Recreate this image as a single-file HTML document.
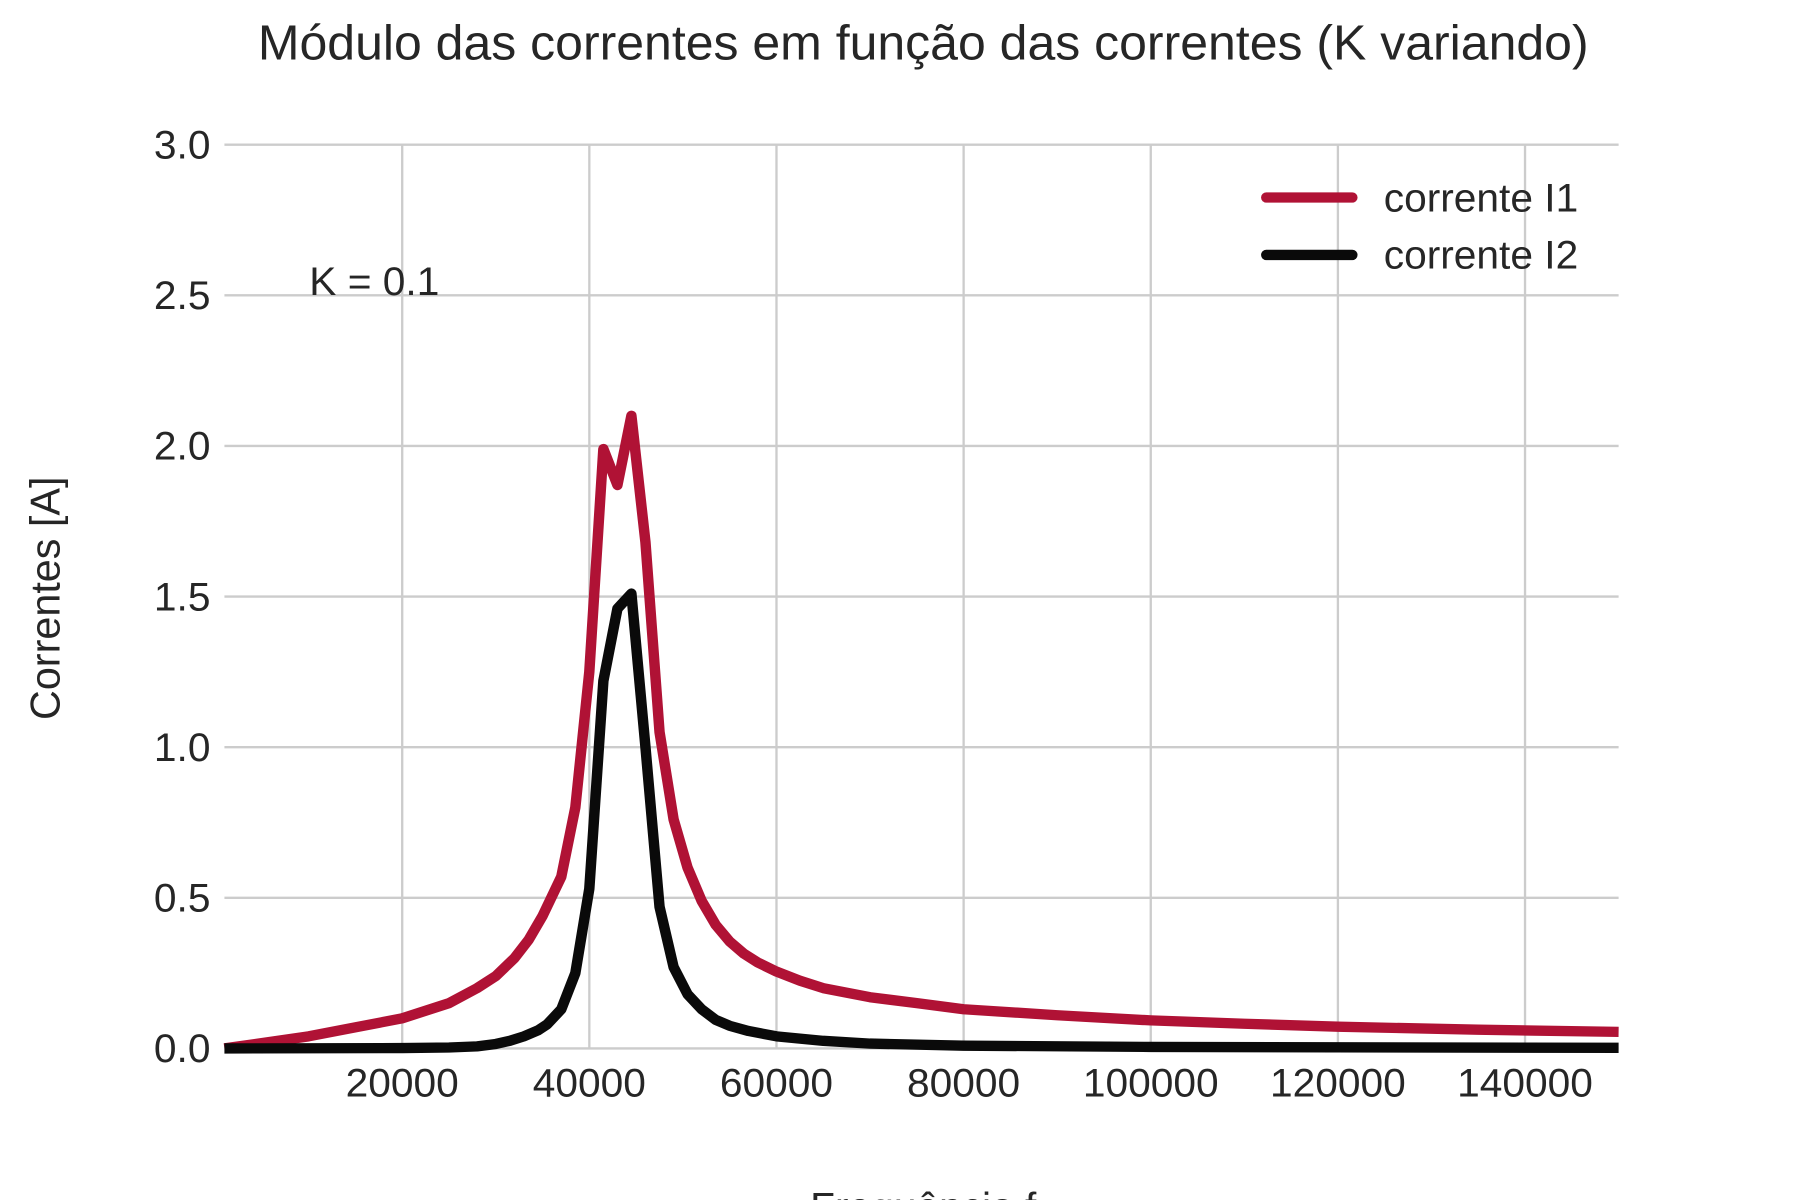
<!DOCTYPE html>
<html><head><meta charset="utf-8"><style>
html,body{margin:0;padding:0;background:#fff;overflow:hidden}
svg{display:block;font-family:"Liberation Sans",sans-serif;fill:#262626}
</style></head><body>
<svg id="chart" width="1800" height="1200" viewBox="0 0 1548 1045" preserveAspectRatio="none">
<text x="794" y="52" font-size="43" text-anchor="middle">Módulo das correntes em função das correntes (K variando)</text>
<g id="grid"></g>
<g id="ticks"></g>
<g id="series"></g>
<text x="266" y="257" font-size="35">K = 0.1</text>
<text transform="translate(51,521) rotate(-90)" font-size="36" text-anchor="middle">Correntes [A]</text>
<text x="794" y="1063" font-size="35" text-anchor="middle">Frequência f</text>
<g>
<line x1="1089" y1="172" x2="1163" y2="172" stroke="#b01235" stroke-width="9" stroke-linecap="round"/>
<text x="1190" y="184" font-size="35">corrente I1</text>
<line x1="1089" y1="222" x2="1163" y2="222" stroke="#0a0a0a" stroke-width="9" stroke-linecap="round"/>
<text x="1190" y="234" font-size="35">corrente I2</text>
</g>
</svg>
<script>
const xTicks = [20000,40000,60000,80000,100000,120000,140000];
const yTicks = [0.0,0.5,1.0,1.5,2.0,2.5,3.0];
const freqI1 = [1000,10000,15000,20000,25000,28000,30000,32000,33500,35000,37000,38500,40000,41500,43000,44500,46000,47500,49000,50500,52000,53500,55000,56500,58000,60000,62500,65000,70000,75000,80000,90000,100000,110000,120000,135000,150000];
const valuesI1 = [0,0.04,0.07,0.1,0.15,0.2,0.24,0.3,0.36,0.44,0.57,0.8,1.25,1.99,1.87,2.1,1.68,1.05,0.76,0.6,0.49,0.41,0.355,0.315,0.285,0.255,0.225,0.2,0.17,0.15,0.13,0.11,0.093,0.082,0.072,0.062,0.055];
const freqI2 = [1000,20000,25000,28000,30000,31500,33000,34500,35500,37000,38500,40000,41500,43000,44500,46000,47500,49000,50500,52000,53500,55000,57000,60000,65000,70000,80000,100000,150000];
const valuesI2 = [0,0.001,0.003,0.007,0.015,0.025,0.04,0.06,0.08,0.13,0.25,0.53,1.22,1.46,1.51,1.0,0.47,0.27,0.18,0.13,0.095,0.075,0.058,0.04,0.025,0.016,0.009,0.005,0.002];
const X0=193,X1=1392,Y0=913,Y1=126,xmin=1000,xmax=150000,ymin=0,ymax=3;
const sx=v=>X0+(v-xmin)/(xmax-xmin)*(X1-X0);
const sy=v=>Y0-(v-ymin)/(ymax-ymin)*(Y0-Y1);
const NS='http://www.w3.org/2000/svg';
const grid=document.getElementById('grid'),ticks=document.getElementById('ticks'),series=document.getElementById('series');
function mk(tag,attrs,parent){const e=document.createElementNS(NS,tag);for(const k in attrs)e.setAttribute(k,attrs[k]);parent.appendChild(e);return e;}
xTicks.forEach(t=>{
  const l=mk('line',{x1:sx(t),x2:sx(t),y1:Y1,y2:Y0,stroke:'#cccccc','stroke-width':2},grid);
  
  
  const tx=mk('text',{x:sx(t),y:Y0+42,'font-size':35,'text-anchor':'middle'},ticks);
  tx.textContent=t;
  
  
});
yTicks.forEach(t=>{
  const l=mk('line',{x1:X0,x2:X1,y1:sy(t),y2:sy(t),stroke:'#cccccc','stroke-width':2},grid);
  
  
  const tx=mk('text',{x:X0-12,y:sy(t)+12,'font-size':35,'text-anchor':'end'},ticks);
  tx.textContent=t.toFixed(1);
  
  
});
function path(fx,fy,color,name){
  const d=fx.map((f,i)=>(i?'L':'M')+sx(f).toFixed(1)+' '+sy(fy[i]).toFixed(1)).join(' ');
  const p=mk('path',{d:d,fill:'none',stroke:color,'stroke-width':9,'stroke-linejoin':'round'},series);
  
  
}
path(freqI1,valuesI1,'#b01235','line-corrente-i1');
path(freqI2,valuesI2,'#0a0a0a','line-corrente-i2');
</script>
</body></html>
